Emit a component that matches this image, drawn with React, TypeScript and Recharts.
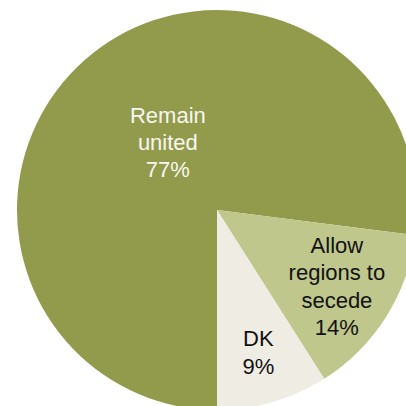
import React from "react";
import { PieChart, Pie, Cell } from "recharts";

const categories = ["Remain united", "Allow regions to secede", "DK"];
const values = [77, 14, 9];
const labelLines = [["Remain", "united", "77%"], ["Allow", "regions to", "secede", "14%"], ["DK", "9%"]];

const COLORS = ["#929b4b", "#bfc78c", "#eeece3"];
const TEXT_COLORS = ["#f7f7f2", "#111111", "#111111"];
const LABEL_R = [0.42, 0.71, 0.74];
const LABEL_ANGLE_OFFSET = [-5.6, 0, 0];

const data = categories.map((name, i) => ({ name, value: values[i] }));

const RADIAN = Math.PI / 180;

const renderLabel = (props: any) => {
  const { cx, cy, midAngle, outerRadius, index } = props;
  const r = outerRadius * LABEL_R[index];
  const a = midAngle + LABEL_ANGLE_OFFSET[index];
  const x = cx + r * Math.cos(-a * RADIAN);
  const y = cy + r * Math.sin(-a * RADIAN);
  const lines = labelLines[index];
  const lh = 27.3;
  const y0 = y - ((lines.length - 1) * lh) / 2;
  return (
    <text
      x={x}
      y={y0}
      fill={TEXT_COLORS[index]}
      textAnchor="middle"
      dominantBaseline="central"
      style={{ fontFamily: "'Liberation Sans', Arial, sans-serif", fontSize: 22 }}
    >
      {lines.map((l, k) => (
        <tspan key={k} x={x} dy={k === 0 ? 0 : lh}>
          {l}
        </tspan>
      ))}
    </text>
  );
};

export default function App() {
  return (
    <div style={{ position: "absolute", left: 0, top: 0, width: 406, height: 406, overflow: "hidden", background: "#fff" }}>
      <PieChart width={406} height={406} margin={{ top: 0, right: 0, bottom: 0, left: 0 }}>
        <Pie
          data={data}
          dataKey="value"
          nameKey="name"
          cx={217}
          cy={210}
          outerRadius={200}
          startAngle={-90}
          endAngle={-450}
          stroke="none"
          labelLine={false}
          label={renderLabel}
          isAnimationActive={false}
        >
          {data.map((d, i) => (
            <Cell key={d.name} fill={COLORS[i]} />
          ))}
        </Pie>
      </PieChart>
    </div>
  );
}
